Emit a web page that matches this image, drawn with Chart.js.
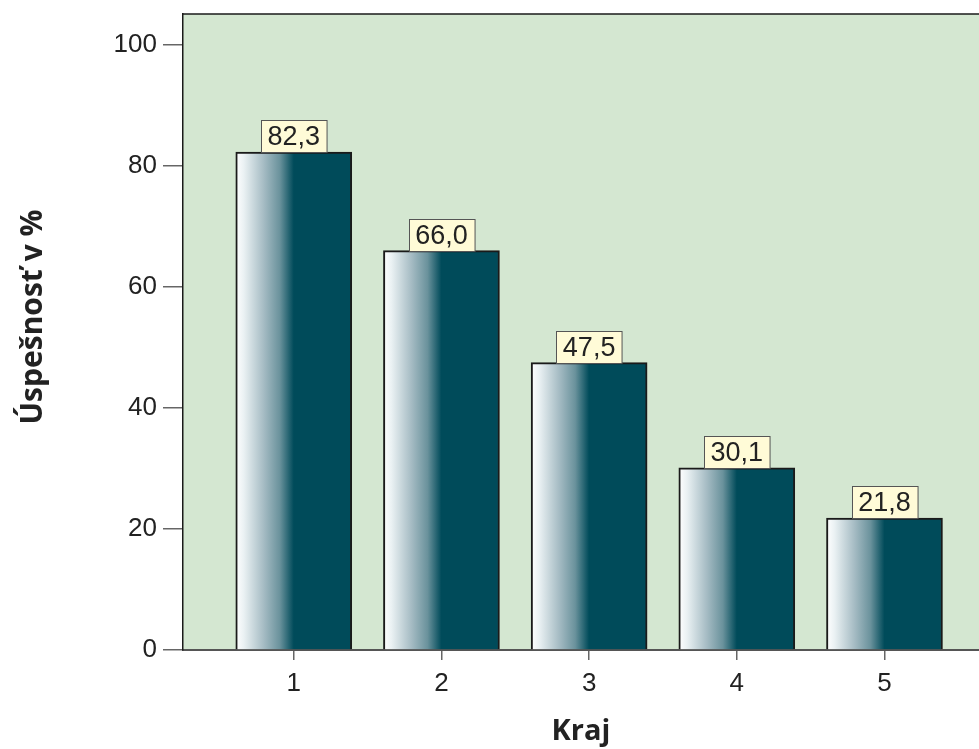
<!DOCTYPE html>
<html>
<head>
<meta charset="utf-8">
<script src="https://cdn.jsdelivr.net/npm/chart.js@4.4.1/dist/chart.umd.min.js"></script>
<style>
  html, body { margin: 0; padding: 0; background: #ffffff; }
  #wrap { width: 979px; height: 749px; position: relative; }
</style>
</head>
<body>
<div id="wrap"><canvas id="chart"></canvas></div>
<script>
// Success rate by region (Kraj)
const categories = [1, 2, 3, 4, 5];
const successRate = [82.3, 66.0, 47.5, 30.1, 21.8];
const yTickValues = [0, 20, 40, 60, 80, 100];
const xTickValues = [1, 2, 3, 4, 5];
const yTitle = 'Úspešnosť v %';
const xTitle = 'Kraj';

const barDark = '#004b5a';
const plotGreen = '#d4e7d1';
const titleFont = 'bold 30px "Open Sans", sans-serif';

// Horizontal white-to-teal shading across each bar
function barGradient(context) {
  const chart = context.chart;
  const xs = chart.scales.x;
  if (!chart.chartArea || !xs) return barDark;
  const cx = xs.getPixelForValue(categories[context.dataIndex]);
  const half = 58;
  const g = chart.ctx.createLinearGradient(cx - half, 0, cx + half, 0);
  g.addColorStop(0.00, '#ffffff');
  g.addColorStop(0.07, '#eaf1f3');
  g.addColorStop(0.24, '#a6bcc4');
  g.addColorStop(0.38, '#6a929c');
  g.addColorStop(0.50, barDark);
  g.addColorStop(1.00, barDark);
  return g;
}

// Plot background, top frame line and the rotated value-axis caption
const plotFrame = {
  id: 'plotFrame',
  beforeDraw(chart) {
    const { ctx, chartArea: a } = chart;
    ctx.save();
    ctx.fillStyle = plotGreen;
    ctx.fillRect(a.left, a.top, a.right - a.left, a.bottom - a.top);
    ctx.restore();
  },
  afterDraw(chart) {
    const { ctx, chartArea: a } = chart;
    ctx.save();
    ctx.strokeStyle = '#1a1a1a';
    ctx.lineWidth = 1.5;
    ctx.beginPath();
    ctx.moveTo(a.left, a.top);
    ctx.lineTo(a.right, a.top);
    ctx.stroke();

    ctx.translate(33, 317);
    ctx.rotate(-Math.PI / 2);
    ctx.font = titleFont;
    ctx.fillStyle = '#222222';
    ctx.textAlign = 'center';
    ctx.textBaseline = 'middle';
    ctx.fillText(yTitle, 0, 0);
    ctx.restore();
  }
};

// Value boxes sitting on top of each bar
const valueBoxes = {
  id: 'valueBoxes',
  afterDatasetsDraw(chart) {
    const { ctx } = chart;
    const xs = chart.scales.x, ys = chart.scales.y;
    ctx.save();
    ctx.font = '27px "Liberation Sans", Arial, sans-serif';
    ctx.textAlign = 'center';
    ctx.textBaseline = 'middle';
    successRate.forEach((v, i) => {
      const text = v.toFixed(1).replace('.', ',');
      const cx = xs.getPixelForValue(categories[i]);
      const top = ys.getPixelForValue(v);
      const w = ctx.measureText(text).width + 13;
      const h = 32;
      const bx = Math.round(cx - w / 2) + 0.5;
      const by = Math.round(top - h) + 0.5;
      ctx.fillStyle = '#fffbd7';
      ctx.fillRect(bx, by, w, h);
      ctx.strokeStyle = '#555555';
      ctx.lineWidth = 1;
      ctx.strokeRect(bx, by, w, h);
      ctx.fillStyle = '#222222';
      ctx.fillText(text, cx, by + h / 2 + 1);
    });
    ctx.restore();
  }
};

new Chart(document.getElementById('chart'), {
  type: 'bar',
  data: {
    datasets: [{
      data: categories.map((c, i) => ({ x: c, y: successRate[i] })),
      backgroundColor: barGradient,
      borderColor: '#1a1a1a',
      borderWidth: 2,
      borderSkipped: 'start',
      barThickness: 116
    }]
  },
  options: {
    responsive: true,
    maintainAspectRatio: false,
    animation: false,
    layout: { padding: { top: 14, left: 0, right: 0, bottom: 0 } },
    plugins: {
      legend: { display: false },
      tooltip: { enabled: false }
    },
    scales: {
      x: {
        type: 'linear',
        min: 0.25,
        max: 5.64,
        offset: false,
        afterFit(scale) {
          scale.height = 99;
          scale.paddingLeft = 0;
          scale.paddingRight = 0;
        },
        afterBuildTicks(scale) { scale.ticks = xTickValues.map(v => ({ value: v })); },
        grid: {
          offset: false,
          drawOnChartArea: false,
          drawTicks: true,
          tickLength: 10,
          color: '#666666',
          lineWidth: 1.5
        },
        border: { display: true, color: '#555555', width: 2 },
        ticks: {
          padding: 8,
          color: '#222222',
          font: { family: '"Liberation Sans", Arial, sans-serif', size: 26 },
          callback: v => String(v)
        },
        title: {
          display: true,
          text: xTitle,
          color: '#222222',
          font: { family: '"Open Sans", sans-serif', size: 29, weight: 'bold' },
          padding: { top: 0, bottom: 0 }
        }
      },
      y: {
        min: 0,
        max: 105.1,
        afterFit(scale) {
          scale.width = 183;
          scale.paddingTop = 0;
          scale.paddingBottom = 0;
        },
        afterBuildTicks(scale) { scale.ticks = yTickValues.map(v => ({ value: v })); },
        grid: {
          drawOnChartArea: false,
          drawTicks: true,
          tickLength: 20,
          color: '#666666',
          lineWidth: 1.5
        },
        border: { display: true, color: '#1a1a1a', width: 1.5 },
        ticks: {
          padding: 6,
          color: '#222222',
          font: { family: '"Liberation Sans", Arial, sans-serif', size: 26 },
          callback: v => String(v)
        },
        title: { display: false }
      }
    }
  },
  plugins: [plotFrame, valueBoxes]
});
</script>
</body>
</html>
